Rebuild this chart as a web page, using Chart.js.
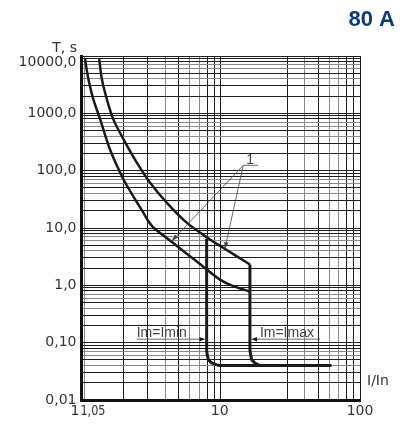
<!DOCTYPE html>
<html>
<head>
  <title>80 A - time-current characteristic</title>
  <script src="https://cdn.jsdelivr.net/npm/chart.js"></script>
  <style>
    body {
      margin: 0;
      background: #fff;
    }

    .chart-container {
      width: 407px;
      height: 432px;
    }
  </style>
</head>
<body>
  <div class="chart-container">
    <canvas id="chart" width="407" height="432"></canvas>
  </div>

  <script>
    // I/In (x) and trip time T, s (y)
    var lowerI = [1.06, 1.12, 1.215, 1.36, 1.6, 2.0, 2.35, 2.78, 3.0, 3.28, 4.09, 5.69, 7.09, 7.92, 9.86, 12.3, 16.2];
    var lowerT = [8860, 3960, 1770, 792, 237, 70.8, 36.1, 18.5, 13.5, 10.2, 6.68, 3.57, 2.35, 1.9, 1.26, 0.97, 0.78];

    var upperI = [1.34, 1.4, 1.52, 1.69, 2.0, 2.49, 3.1, 4.09, 5.69, 8.37, 10.4, 16.2];
    var upperT = [8860, 3960, 1770, 792, 354, 139, 62, 27.7, 12.4, 6.32, 4.53, 2.31];

    // Im = Imin release line, runs on into the instantaneous floor
    var iminI = [7.92, 7.92, 7.99, 8.15, 8.6, 9.35, 9.86, 62.5];
    var iminT = [6.5, 0.0755, 0.0617, 0.0505, 0.0442, 0.041, 0.04, 0.04];

    // Im = Imax release line
    var imaxI = [16.2, 16.2, 16.4, 16.67, 17.6, 19.1];
    var imaxT = [2.31, 0.0755, 0.0617, 0.0505, 0.0442, 0.04];

    var xGrid = [1, 1.05, 2, 3, 4, 5, 6, 7, 8, 9, 10, 30, 40, 50, 60, 70, 80, 90, 100];
    var yDecades = [0.01, 0.1, 1, 10, 100, 1000];
    var yLabels = ['0,01', '0,10', '1,0', '10,0', '100,0', '1000,0', '10000,0'];

    // callouts, in data units
    var oneFrom = [14.5, 124];
    var oneTo = [[4.44, 5.9], [10.7, 4.3]];
    var iminNote = { text: 'Im=Imin', from: 2.49, to: 6.9, tip: 7.92, t: 0.115 };
    var imaxNote = { text: 'Im=Imax', from: 19.1, to: 51.5, tip: 16.2, t: 0.115 };

    var yGrid = [];
    yDecades.forEach(function (d) {
      for (var k = 1; k < 10; k++) yGrid.push(Number((d * k).toPrecision(3)));
    });
    yGrid.push(10000);

    function pts(xs, ys) {
      return xs.map(function (v, i) { return { x: v, y: ys[i] }; });
    }

    function gridTone(v) {
      if (!v) return '#8a8a8a';
      var s = Math.round(v / Math.pow(10, Math.floor(Math.log10(v) + 1e-9)) * 100) / 100;
      return [1, 2, 3, 5, 8, 9].indexOf(s) >= 0 ? '#1e1e1e' : '#8a8a8a';
    }

    function arrow(c, x0, y0, x1, y1, len, w) {
      c.beginPath();
      c.moveTo(x0, y0);
      c.lineTo(x1, y1);
      c.stroke();
      var a = Math.atan2(y1 - y0, x1 - x0);
      c.beginPath();
      c.moveTo(x1, y1);
      c.lineTo(x1 - len * Math.cos(a) + w * Math.sin(a), y1 - len * Math.sin(a) - w * Math.cos(a));
      c.lineTo(x1 - len * Math.cos(a) - w * Math.sin(a), y1 - len * Math.sin(a) + w * Math.cos(a));
      c.closePath();
      c.fill();
    }

    var notes = {
      id: 'notes',
      afterDraw: function (chart) {
        var c = chart.ctx, sx = chart.scales.x, sy = chart.scales.y;
        var bottom = chart.chartArea.bottom;
        c.save();

        // x tick labels
        c.fillStyle = '#333';
        c.textBaseline = 'top';
        c.font = '14px "DejaVu Sans"';
        c.textAlign = 'right';
        c.fillText('1', sx.getPixelForValue(1) - 2, bottom + 4);
        c.textAlign = 'center';
        c.fillText('10', sx.getPixelForValue(10) - 1, bottom + 4);
        c.fillText('100', sx.getPixelForValue(100), bottom + 4);
        c.save();
        c.translate(sx.getPixelForValue(1.05) - 4, bottom + 4);
        c.scale(0.8, 1);
        c.textAlign = 'left';
        c.fillText('1,05', 0, 0);
        c.restore();

        // axis names and heading
        c.textBaseline = 'alphabetic';
        c.textAlign = 'right';
        c.fillText('T, s', 77, 52);
        c.textAlign = 'left';
        c.fillText('I/In', 367, 385);
        c.font = 'bold 22px "Liberation Sans", Arial, sans-serif';
        c.fillStyle = '#0b3c78';
        c.textAlign = 'right';
        c.fillText('80 A', 395, 26);

        // callout "1"
        c.strokeStyle = '#444';
        c.fillStyle = '#444';
        c.lineWidth = 0.8;
        var ox = sx.getPixelForValue(oneFrom[0]), oy = sy.getPixelForValue(oneFrom[1]);
        c.font = '14px "Liberation Sans", Arial, sans-serif';
        c.textAlign = 'left';
        c.fillText('1', ox + 3, oy - 1);
        c.beginPath();
        c.moveTo(ox, oy);
        c.lineTo(ox + 15, oy);
        c.stroke();
        oneTo.forEach(function (p) {
          arrow(c, ox, oy, sx.getPixelForValue(p[0]), sy.getPixelForValue(p[1]), 7, 2.2);
        });

        // Im notes
        [iminNote, imaxNote].forEach(function (n) {
          var ly = sy.getPixelForValue(n.t);
          var a = sx.getPixelForValue(n.from), b = sx.getPixelForValue(n.to);
          var tip = sx.getPixelForValue(n.tip);
          c.fillStyle = '#444';
          c.fillText(n.text, a, ly - 2);
          c.lineWidth = 0.8;
          c.beginPath();
          c.moveTo(Math.min(a, b), ly);
          c.lineTo(Math.max(a, b), ly);
          c.stroke();
          var start = tip < a ? a : b;
          c.lineWidth = 1;
          c.fillStyle = '#111';
          arrow(c, start, ly, tip + (tip < a ? 2 : -2), ly, 5, 2.2);
        });

        c.restore();
      }
    };

    var ctx = document.getElementById('chart').getContext('2d');
    var lineStyle = { borderColor: '#1a1a1a', pointRadius: 0, fill: false };

    var chart = new Chart(ctx, {
      type: 'line',
      data: {
        datasets: [
          Object.assign({ data: pts(lowerI, lowerT), borderWidth: 2.5, tension: 0.3 }, lineStyle),
          Object.assign({ data: pts(upperI, upperT), borderWidth: 2.5, tension: 0.3 }, lineStyle),
          Object.assign({ data: pts(iminI, iminT), borderWidth: 3, tension: 0 }, lineStyle),
          Object.assign({ data: pts(imaxI, imaxT), borderWidth: 3, tension: 0 }, lineStyle)
        ]
      },
      options: {
        responsive: false,
        animation: false,
        layout: { padding: { top: 56, right: 47, bottom: 0, left: 0 } },
        plugins: {
          legend: { display: false },
          tooltip: { enabled: false }
        },
        scales: {
          x: {
            type: 'logarithmic',
            min: 1,
            max: 100,
            afterBuildTicks: function (s) {
              s.ticks = xGrid.map(function (v) { return { value: v }; });
            },
            afterFit: function (s) { s.height = 32; },
            ticks: { display: false, autoSkip: false },
            grid: {
              drawTicks: false,
              lineWidth: 1,
              color: function (c) { return gridTone(c.tick && c.tick.value); }
            },
            border: { color: '#111', width: 3 }
          },
          y: {
            type: 'logarithmic',
            min: 0.01,
            max: 10000,
            afterBuildTicks: function (s) {
              s.ticks = yGrid.map(function (v) { return { value: v }; });
            },
            afterFit: function (s) { s.width = 81.5; },
            ticks: {
              autoSkip: false,
              padding: 5,
              color: '#333',
              font: { family: 'DejaVu Sans', size: 14, lineHeight: 0.85 },
              callback: function (v) {
                var e = Math.log10(v);
                if (Math.abs(e - Math.round(e)) > 1e-6) return '';
                var label = yLabels[Math.round(e) + 2];
                // top label sits just under the frame, as in the scan
                return Math.round(e) === 4 ? ['', label] : label;
              }
            },
            grid: {
              drawTicks: false,
              lineWidth: 1,
              color: function (c) { return gridTone(c.tick && c.tick.value); }
            },
            border: { color: '#111', width: 3 }
          }
        }
      },
      plugins: [notes]
    });
  </script>
</body>
</html>
